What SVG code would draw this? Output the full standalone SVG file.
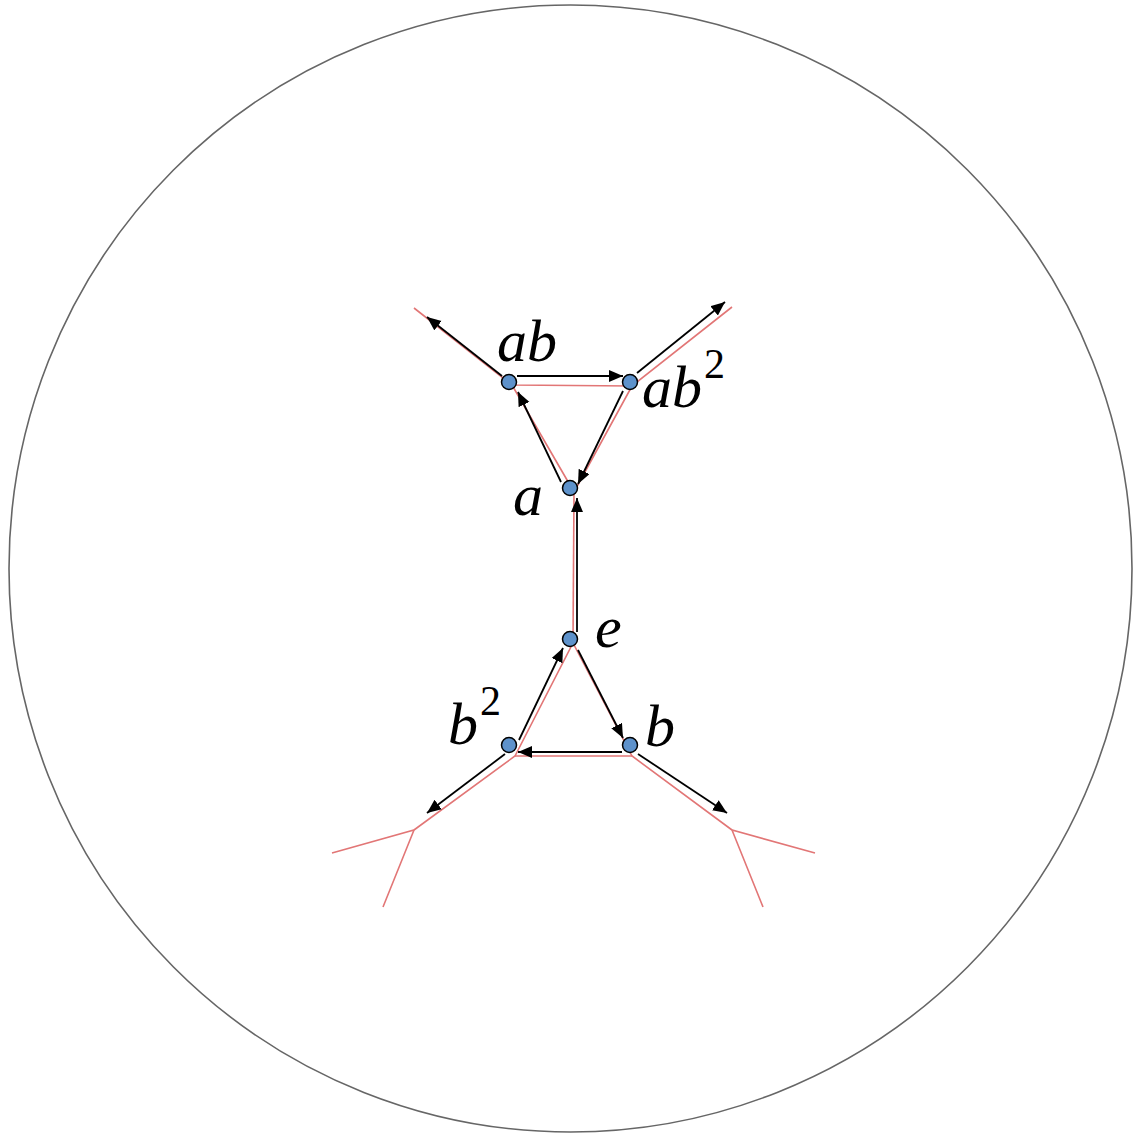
<svg xmlns="http://www.w3.org/2000/svg" width="1133" height="1135" viewBox="0 0 1133 1135">
<style>
.red{fill:none;stroke:#e27676;stroke-width:1.6;stroke-linejoin:miter}
.arr{fill:none;stroke:#000;stroke-width:1.8;marker-end:url(#ah)}
.node{fill:#5e92cb;stroke:#000;stroke-width:1.5}
.lbl{font-family:"Liberation Serif","DejaVu Serif",serif;font-style:italic;font-size:60px;fill:#000}
.sup{font-style:normal;font-size:42px}
</style>
<defs>
<marker id="ah" markerUnits="userSpaceOnUse" markerWidth="15" markerHeight="13" refX="14" refY="6" orient="auto">
<path d="M0,0 L14,6 L0,12 z" fill="#000"/>
</marker>
</defs>
<rect width="1133" height="1135" fill="#fff"/>
<ellipse cx="570.5" cy="568.5" rx="561.5" ry="563.5" fill="none" stroke="#666" stroke-width="1.6"/>
<g id="tree">
<polyline class="red" points="414,308 512,385 632,386 732,307"/>
<polyline class="red" points="512,385 574,492 632,386"/>
<polyline class="red" points="574,492 573,643"/>
<polyline class="red" points="332,853 414,830 383,907"/>
<polyline class="red" points="815,853 732,830 763,907"/>
<polyline class="red" points="414,830 515,756 573,643 632,756 732,830"/>
<polyline class="red" points="515,756 632,756"/>
</g>
<g id="connectors">
<line class="arr" x1="561" y1="482" x2="518" y2="392"/>
<line class="arr" x1="517" y1="376" x2="623" y2="376"/>
<line class="arr" x1="623" y1="391" x2="578" y2="484"/>
<line class="arr" x1="577" y1="632" x2="577" y2="498"/>
<line class="arr" x1="502" y1="376" x2="427" y2="317"/>
<line class="arr" x1="637" y1="373" x2="725" y2="302"/>
<line class="arr" x1="519" y1="740" x2="563" y2="648"/>
<line class="arr" x1="578" y1="650" x2="623" y2="738"/>
<line class="arr" x1="622" y1="752" x2="518" y2="752"/>
<line class="arr" x1="505" y1="754" x2="427" y2="813"/>
<line class="arr" x1="638" y1="754" x2="727" y2="813"/>
</g>
<g id="node-ab"><circle class="node" cx="509" cy="382" r="7.5"/><text class="lbl" x="497" y="361">ab</text></g>
<g id="node-ab2"><circle class="node" cx="630" cy="382" r="7.5"/><text class="lbl" x="642" y="407">ab<tspan class="sup" dx="2" dy="-29">2</tspan></text></g>
<g id="node-a"><circle class="node" cx="570" cy="488" r="7.5"/><text class="lbl" x="513" y="515">a</text></g>
<g id="node-e"><circle class="node" cx="570" cy="639" r="7.5"/><text class="lbl" x="595" y="647">e</text></g>
<g id="node-b2"><circle class="node" cx="509" cy="745" r="7.5"/><text class="lbl" x="448" y="744">b<tspan class="sup" dx="2" dy="-29">2</tspan></text></g>
<g id="node-b"><circle class="node" cx="630" cy="745" r="7.5"/><text class="lbl" x="645" y="746">b</text></g>
</svg>
